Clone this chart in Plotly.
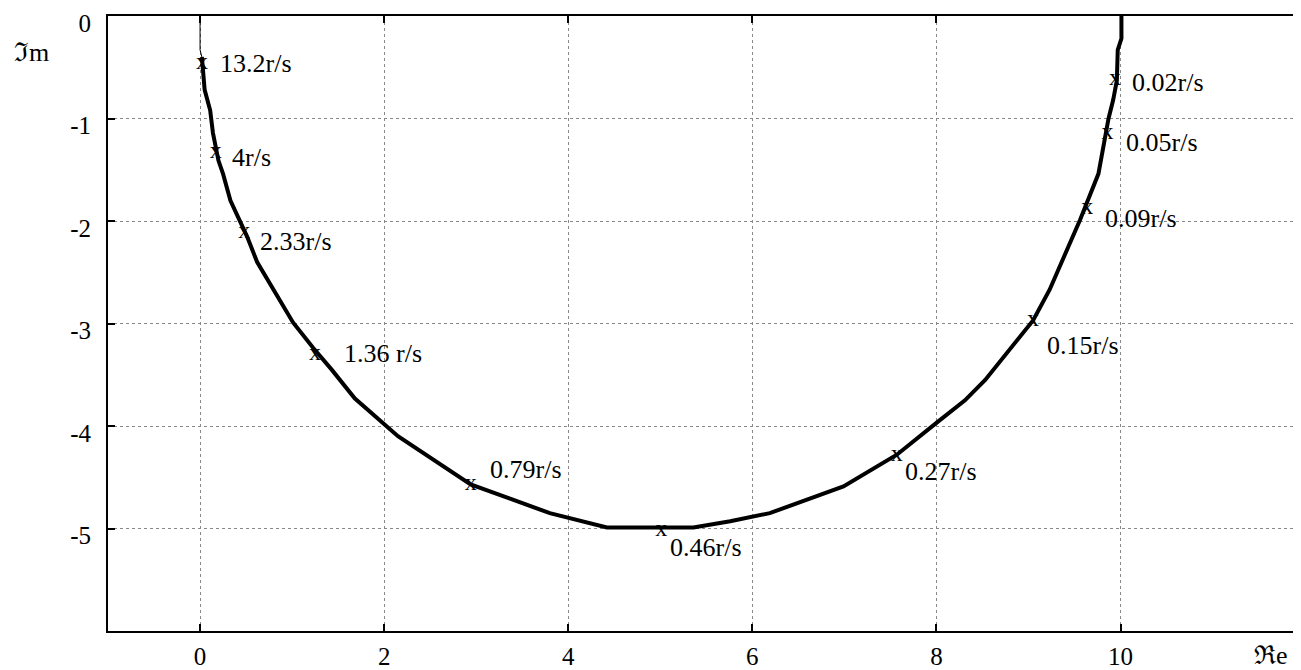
import plotly.graph_objects as go

# Nyquist curve (Re, Im), from high to low frequency
curve_re = [0.02, 0.05, 0.11, 0.14, 0.20, 0.25, 0.33, 0.51, 0.62, 0.80, 1.01, 1.23, 1.43, 1.68,
            2.15, 2.94, 3.80, 4.42, 5.36, 5.76, 6.19, 6.99, 7.57, 8.00, 8.31, 8.53, 9.05, 9.23,
            9.43, 9.56, 9.76, 9.87, 9.92, 9.96, 9.97, 10.01, 10.01]
curve_im = [-0.40, -0.72, -0.92, -1.14, -1.41, -1.54, -1.80, -2.15, -2.40, -2.67, -2.99, -3.24,
            -3.45, -3.73, -4.10, -4.57, -4.85, -4.99, -4.99, -4.93, -4.85, -4.59, -4.28, -3.97,
            -3.75, -3.55, -2.97, -2.67, -2.27, -1.99, -1.54, -1.00, -0.82, -0.63, -0.33, -0.22, 0.0]

# thin tail towards the origin
tail_re = [0.0, 0.0, 0.02]
tail_im = [0.0, -0.33, -0.40]

# marked frequencies
mark_labels = ["13.2r/s", "4r/s", "2.33r/s", "1.36 r/s", "0.79r/s", "0.46r/s",
               "0.27r/s", "0.15r/s", "0.09r/s", "0.05r/s", "0.02r/s"]
mark_re = [0.02, 0.17, 0.48, 1.25, 2.94, 5.01, 7.57, 9.05, 9.64, 9.86, 9.94]
mark_im = [-0.46, -1.33, -2.105, -3.30, -4.57, -5.01, -4.28, -2.97, -1.87, -1.146, -0.61]

x_ticks = [0, 2, 4, 6, 8, 10]
y_ticks = [0, -1, -2, -3, -4, -5]

# label offsets in pixels (layout only)
label_dx = [16, 14, 14, 27, 17, 7, 6, 12, 16, 16, 15]
label_dy = [0, -5, -10, 1, 15, -18, -17, -25, -11, -9, -4]

FONT = "Liberation Serif, Times New Roman, serif"

fig = go.Figure()
fig.add_trace(go.Scatter(x=tail_re, y=tail_im, mode="lines",
                         line=dict(color="black", width=1), hoverinfo="skip"))
fig.add_trace(go.Scatter(x=curve_re, y=curve_im, mode="lines",
                         line=dict(color="black", width=4), hoverinfo="skip"))
fig.add_trace(go.Scatter(x=mark_re, y=mark_im, mode="text", text=["x"] * len(mark_re),
                         textposition="middle center",
                         textfont=dict(family=FONT, size=24, color="black"), hoverinfo="skip"))

for lab, xr, yi, dx, dy in zip(mark_labels, mark_re, mark_im, label_dx, label_dy):
    fig.add_annotation(x=xr, y=yi, text=lab, showarrow=False, xanchor="left", yanchor="middle",
                       xshift=dx, yshift=dy, font=dict(family=FONT, size=26, color="black"))

fig.add_annotation(text="ℑm", xref="paper", yref="paper", x=-0.064, y=0.94, showarrow=False,
                   xanchor="center", yanchor="middle", font=dict(family=FONT, size=26, color="black"))
fig.add_annotation(text="ℜe", xref="paper", yref="paper", x=0.976, y=-0.04, showarrow=False,
                   xanchor="center", yanchor="middle", font=dict(family=FONT, size=26, color="black"))

axis_common = dict(showline=True, linecolor="black", linewidth=2, mirror="ticks",
                   ticks="inside", ticklen=7, tickwidth=1.5, tickcolor="black",
                   showgrid=True, gridcolor="#888888", gridwidth=1, griddash="dot",
                   zeroline=False, automargin=False, ticklabeloverflow="allow",
                   tickfont=dict(family=FONT, size=25, color="black"))

fig.update_xaxes(range=[-1, 11.95], tickvals=x_ticks, ticktext=[str(v) for v in x_ticks],
                 ticklabelstandoff=2, **axis_common)
fig.update_yaxes(range=[-6, 0], tickvals=y_ticks, ticktext=[str(v) for v in y_ticks],
                 ticklabelstandoff=10, ticklabelshift=7, **axis_common)

# the page adds an 8px body margin, so the figure is sized/margined to compensate
fig.update_layout(width=1293, height=662, margin=dict(l=100, r=1, t=8, b=39),
                  paper_bgcolor="white", plot_bgcolor="white", showlegend=False)

fig.write_html("out.html")
